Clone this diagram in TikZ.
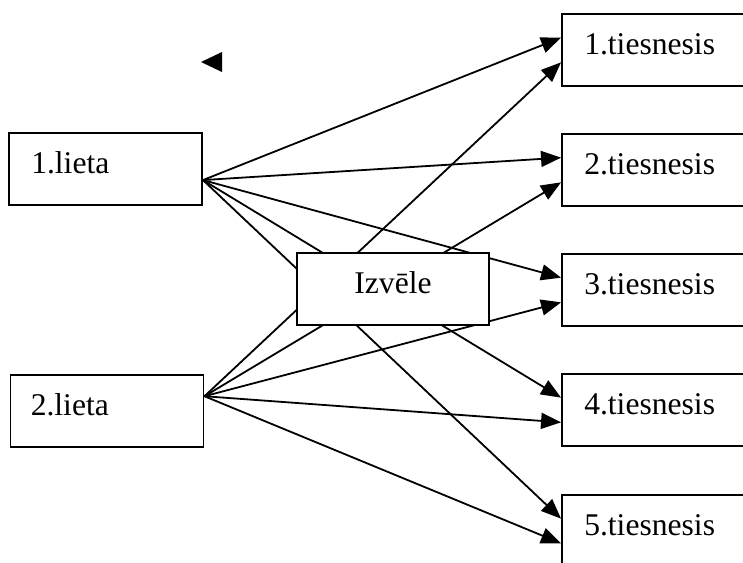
\documentclass[tikz,border=0pt]{standalone}
\usepackage{fontspec}
\setmainfont{Liberation Serif}
\usetikzlibrary{arrows.meta,calc}
\begin{document}
\begin{tikzpicture}[x=1pt,y=-1pt,
  boxstyle/.style={draw=black,line width=1.9pt,fill=white,rectangle,inner sep=0pt},
  judgebox/.style={boxstyle,minimum width=218pt,minimum height=72pt},
  casebox/.style={boxstyle,minimum width=193pt,minimum height=72pt},
  choicebox/.style={boxstyle,minimum width=192pt,minimum height=72pt},
  lbl/.style={inner sep=0pt,font=\fontsize{31.6}{36}\selectfont},
  conn/.style={line width=1.8pt,-{Triangle[length=20pt,width=16pt]}}]
\clip (0,0) rectangle (743,562);
\fill[white] (0,0) rectangle (743,562);
% judge boxes
\node[judgebox] (t1) at (671,50) {};
\node[judgebox] (t2) at (671,170) {};
\node[judgebox] (t3) at (671,290) {};
\node[judgebox] (t4) at (671,410) {};
\node[judgebox] (t5) at (671,531) {};
\foreach \i in {1,...,5}{
  \node[lbl,anchor=base west] (tl\i) at ($(t\i.north west)+(23,41)$) {\i.tiesnesis};
  \coordinate (t\i a) at ($(t\i.north west)!0.333!(t\i.south west)$);
  \coordinate (t\i b) at ($(t\i.north west)!0.667!(t\i.south west)$);
}
% case boxes
\node[casebox] (l1) at (105.5,169) {};
\node[lbl,anchor=base west] (ll1) at ($(l1.north west)+(23,41)$) {1.lieta};
\node[casebox] (l2) at (107,411) {};
\node[lbl,anchor=base west] (ll2) at ($(l2.north west)+(21,41)$) {2.lieta};
\coordinate (s1) at ($(l1.north east)!0.65!(l1.south east)$);
\coordinate (s2) at ($(l2.north east)!0.3!(l2.south east)$);
% connectors
\foreach \i in {1,...,5}{
  \draw[conn] (s1) -- (t\i a);
  \draw[conn] (s2) -- (t\i b);
}
% choice box on top
\node[choicebox] (iz) at (393,289) {};
\node[lbl,anchor=base] (izl) at ($(iz.north)+(0,41)$) {Izvēle};
% stray arrowhead
\coordinate (h0) at (222,52);
\coordinate (h1) at (201,62);
\coordinate (h2) at (222,72);
\fill[black] (h0) -- (h1) -- (h2) -- cycle;
\end{tikzpicture}
\end{document}
